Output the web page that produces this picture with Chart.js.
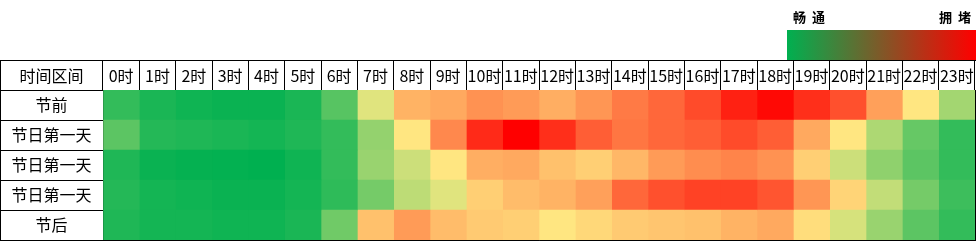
<!DOCTYPE html>
<html>
<head>
<meta charset="utf-8">
<title>节假日分时段拥堵情况</title>
<script src="https://cdn.jsdelivr.net/npm/chart.js@4.4.1/dist/chart.umd.min.js"></script>
<style>
  html, body { margin: 0; padding: 0; background: #fff; }
  #wrap { position: relative; width: 977px; height: 242px; }
</style>
</head>
<body>
<div id="wrap"><canvas id="heat"></canvas></div>
<script>
// labels
const hourLabels = ['0时', '1时', '2时', '3时', '4时', '5时', '6时', '7时', '8时', '9时', '10时', '11时',
  '12时', '13时', '14时', '15时', '16时', '17时', '18时', '19时', '20时', '21时', '22时', '23时'];
const rowLabels = ['节前', '节日第一天', '节日第一天', '节日第一天', '节后'];
const cornerLabel = '时间区间';
const legendLow = '畅通';
const legendHigh = '拥堵';

// congestion index per hour, 0 = 畅通 ... 100 = 拥堵
const preHoliday = [10, 5, 3, 2, 2, 5, 17, 44, 62, 64, 69, 67, 63, 68, 74, 78, 84, 93, 98, 90, 83, 66, 51, 32];
const holidayDayA = [18, 7, 6, 5, 4, 6, 10, 29, 51, 71, 91, 100, 90, 80, 75, 78, 80, 84, 80, 64, 51, 34, 20, 10];
const holidayDayB = [6, 2, 1, 0.5, 0, 3, 10, 30, 40, 51, 63, 64, 59, 56, 61, 67, 70, 72, 69, 56, 40, 28, 18, 10];
const holidayDayC = [7, 4, 3, 2, 2, 4, 9, 23, 37, 44, 56, 60, 62, 66, 78, 83, 86, 86, 82, 68, 55, 38, 23, 12];
const postHoliday = [6, 4, 4, 3, 3, 5, 22, 59, 67, 60, 57, 56, 51, 54, 57, 58, 59, 62, 64, 53, 42, 30, 18, 10];

const rows = [preHoliday, holidayDayA, holidayDayB, holidayDayC, postHoliday];

const FONT = '"Noto Sans CJK SC", "Noto Sans", sans-serif';
const LOW = [0, 176, 80];
const MID = [255, 235, 132];
const HIGH = [255, 0, 0];

// excel style 3-colour scale
function heatColor(v) {
    let a, b, t;
    if (v <= 50) { a = LOW; b = MID; t = v / 50; }
    else { a = MID; b = HIGH; t = (v - 50) / 50; }
    const c = a.map((x, i) => Math.round(x + (b[i] - x) * t));
    return `rgb(${c[0]},${c[1]},${c[2]})`;
}

// one dataset per hour, stacked along x, one cell per row
const datasets = hourLabels.map((h, i) => ({
    label: h,
    data: rows.map(() => 1),
    backgroundColor: rows.map(r => heatColor(r[i])),
    borderWidth: 0,
    barPercentage: 1,
    categoryPercentage: 1
}));

const labelColWidth = 103;
const headerHeight = 30;

// centre the row labels in the first column
const mctx = document.createElement('canvas').getContext('2d');
mctx.font = '16px ' + FONT;
const widest = Math.max(...rowLabels.map(s => mctx.measureText(s).width));

const tableFrame = {
    id: 'tableFrame',
    afterDraw(chart) {
        const { ctx } = chart;
        const x2 = chart.scales.x2;
        const y = chart.scales.y;
        const right = chart.chartArea.right;
        ctx.save();
        ctx.strokeStyle = '#000';
        ctx.lineWidth = 1;
        ctx.beginPath();
        ctx.moveTo(0, x2.top + 0.5);
        ctx.lineTo(right + 1, x2.top + 0.5);
        ctx.moveTo(0.5, x2.top);
        ctx.lineTo(0.5, y.bottom + 1);
        ctx.stroke();

        // corner cell
        ctx.fillStyle = '#000';
        ctx.font = '16px ' + FONT;
        ctx.textAlign = 'center';
        ctx.textBaseline = 'middle';
        ctx.fillText(cornerLabel, y.left + y.width / 2, x2.top + x2.height / 2 + 1);

        // colour legend
        const gx0 = 787, gx1 = right + 1, gy0 = 30, gy1 = x2.top;
        const grad = ctx.createLinearGradient(gx0, 0, gx1, 0);
        grad.addColorStop(0, `rgb(${LOW.join(',')})`);
        grad.addColorStop(1, `rgb(${HIGH.join(',')})`);
        ctx.fillStyle = grad;
        ctx.fillRect(gx0, gy0, gx1 - gx0, gy1 - gy0);

        ctx.fillStyle = '#000';
        ctx.font = 'bold 13px ' + FONT;
        ctx.letterSpacing = '6px';
        ctx.textAlign = 'left';
        ctx.fillText(legendLow, gx0 + 6, 17);
        ctx.textAlign = 'right';
        ctx.fillText(legendHigh, gx1 + 1, 17);
        ctx.restore();
    }
};

new Chart(document.getElementById('heat'), {
    type: 'bar',
    data: { labels: rowLabels, datasets: datasets },
    options: {
        indexAxis: 'y',
        responsive: true,
        maintainAspectRatio: false,
        animation: false,
        layout: { padding: { top: 60, left: 0, right: 2, bottom: 2 } },
        plugins: {
            legend: { display: false },
            tooltip: { enabled: false }
        },
        scales: {
            x: {
                type: 'linear',
                stacked: true,
                min: 0,
                max: 24,
                position: 'bottom',
                z: 1,
                ticks: { display: false, stepSize: 1 },
                grid: { color: '#000', drawTicks: false },
                border: { color: '#000' },
                afterFit: s => { s.height = 0; }
            },
            x2: {
                type: 'category',
                labels: hourLabels,
                position: 'top',
                offset: true,
                grid: { offset: true, drawOnChartArea: false, color: '#000', tickLength: headerHeight },
                border: { color: '#000' },
                ticks: {
                    color: '#000',
                    font: { family: FONT, size: 16 },
                    padding: -26,
                    maxRotation: 0,
                    autoSkip: false
                },
                afterFit: s => { s.height = headerHeight; }
            },
            y: {
                stacked: true,
                z: 1,
                grid: { offset: true, color: '#000', tickLength: labelColWidth },
                border: { color: '#000' },
                ticks: {
                    color: '#000',
                    font: { family: FONT, size: 16 },
                    crossAlign: 'center',
                    padding: -(labelColWidth / 2 + widest / 2)
                },
                afterFit: s => { s.width = labelColWidth; }
            }
        }
    },
    plugins: [tableFrame]
});
</script>
</body>
</html>
